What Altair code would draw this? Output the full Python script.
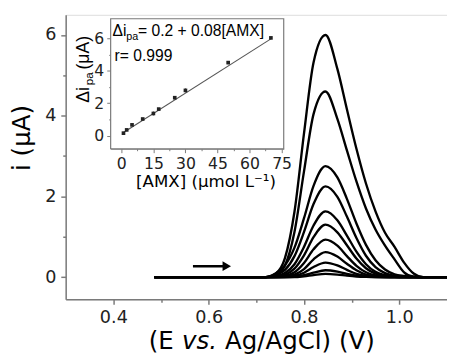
import altair as alt
import pandas as pd

# ---------------- data ----------------
E_grid = [0.486, 0.72, 0.74, 0.76, 0.78, 0.80, 0.82, 0.845, 0.87, 0.89,
          0.91, 0.93, 0.95, 0.97, 0.99, 1.01, 1.03, 1.05, 1.10]
curve_1 = [0, 0, 0.08, 0.47, 1.62, 3.56, 5.32, 6.00, 5.16, 4.16, 3.18, 2.32, 1.63, 1.10, 0.75, 0.36, 0.09, 0, 0]
curve_2 = [0, 0, 0.04, 0.29, 1.12, 2.62, 4.04, 4.60, 3.92, 3.14, 2.37, 1.70, 1.18, 0.78, 0.44, 0.12, 0.01, 0, 0]
curve_3 = [0, 0, 0.09, 0.29, 0.73, 1.46, 2.26, 2.75, 2.47, 1.94, 1.33, 0.80, 0.42, 0.19, 0.07, 0.03, 0.01, 0, 0]
curve_4 = [0, 0, 0.05, 0.18, 0.52, 1.12, 1.81, 2.25, 1.99, 1.50, 0.97, 0.53, 0.25, 0.10, 0.03, 0.01, 0, 0, 0]
curve_5 = [0, 0, 0.02, 0.10, 0.32, 0.75, 1.28, 1.63, 1.41, 1.03, 0.63, 0.32, 0.13, 0.05, 0.01, 0, 0, 0, 0]
curve_6 = [0, 0, 0.01, 0.06, 0.21, 0.54, 0.99, 1.30, 1.11, 0.79, 0.46, 0.22, 0.085, 0.03, 0.01, 0, 0, 0, 0]
curve_7 = [0, 0, 0, 0.03, 0.12, 0.35, 0.69, 0.93, 0.78, 0.52, 0.28, 0.12, 0.04, 0.01, 0, 0, 0, 0, 0]
curve_8 = [0, 0, 0, 0.01, 0.06, 0.20, 0.44, 0.62, 0.51, 0.33, 0.17, 0.065, 0.02, 0, 0, 0, 0, 0, 0]
curve_9 = [0, 0, 0, 0, 0.03, 0.11, 0.25, 0.36, 0.29, 0.18, 0.08, 0.03, 0.01, 0, 0, 0, 0, 0, 0]
curve_10 = [0, 0, 0, 0, 0.01, 0.05, 0.11, 0.17, 0.135, 0.08, 0.036, 0.012, 0, 0, 0, 0, 0, 0, 0]
curve_11 = [0, 0, 0, 0, 0, 0.02, 0.05, 0.08, 0.063, 0.037, 0.016, 0.005, 0, 0, 0, 0, 0, 0, 0]
curves = [curve_1, curve_2, curve_3, curve_4, curve_5, curve_6,
          curve_7, curve_8, curve_9, curve_10, curve_11]

arrow_E = [0.567, 0.638]
arrow_i = [0.27, 0.27]

conc = [1, 2.5, 5, 10, 15, 17.5, 25, 30, 50, 70]
dip = [0.16, 0.36, 0.67, 1.03, 1.37, 1.64, 2.34, 2.79, 4.50, 6.02]
dip_err = [0.04, 0.04, 0.05, 0.05, 0.12, 0.05, 0.10, 0.12, 0.10, 0.05]
fit_conc = [1, 70]
fit_dip = [0.20, 5.96]

main_x_ticks = [0.4, 0.5, 0.6, 0.7, 0.8, 0.9, 1.0]
main_y_ticks = [0, 1, 2, 3, 4, 5, 6]
inset_x_ticks = [0, 7.5, 15, 22.5, 30, 37.5, 45, 52.5, 60, 67.5, 75]
inset_y_ticks = [0, 1, 2, 3, 4, 5, 6]
main_x_domain = [0.3, 1.1]
main_y_domain = [-0.55, 6.5]
inset_x_domain = [-5, 76]
inset_y_domain = [-0.8, 7.2]

# ---------------- styling / layout ----------------
W, H = 390, 291
FONT = "DejaVu Sans"
FONT2 = "Liberation Sans"
GRAY = "#7a7a7a"
INSET_X_RANGE = [46, 223]
INSET_Y_RANGE = [137, 4]

rows = []
for k, c in enumerate(curves):
    for e, v in zip(E_grid, c):
        rows.append({"curve": k, "E": e, "i": v})
curve_df = pd.DataFrame(rows)

x_main = alt.X("E:Q", scale=alt.Scale(domain=main_x_domain, nice=False, zero=False),
               axis=alt.Axis(title=None, values=main_x_ticks, grid=False,
                             labelExpr="round(datum.value*10) % 2 == 0 ? format(datum.value, '.1f') : ''",
                             tickSize={"condition": {"test": "round(datum.value*10) % 2 == 0", "value": 5}, "value": 3},
                             tickColor=GRAY, tickWidth=1.5, domainColor=GRAY, domainWidth=1.5,
                             labelFont=FONT, labelFontSize=18, labelColor="#222",
                             labelPadding=5, labelOverlap=False, labelFlush=False))
y_main = alt.Y("i:Q", scale=alt.Scale(domain=main_y_domain, nice=False, zero=False),
               axis=alt.Axis(title=None, values=main_y_ticks, grid=False,
                             labelExpr="datum.value % 2 == 0 ? datum.label : ''",
                             tickSize={"condition": {"test": "datum.value % 2 == 0", "value": 5}, "value": 3},
                             tickColor=GRAY, tickWidth=1.5, domainColor=GRAY, domainWidth=1.5,
                             labelFont=FONT, labelFontSize=18, labelColor="#222",
                             labelPadding=5, labelOverlap=False, labelFlush=False))

curves_chart = alt.Chart(curve_df).mark_line(
    interpolate="monotone", color="black", strokeWidth=2.4
).encode(x=x_main, y=y_main, detail="curve:N")

arrow_df = pd.DataFrame({"E": arrow_E, "i": arrow_i})
arrow_line = alt.Chart(arrow_df).mark_line(color="black", strokeWidth=2.5).encode(x=x_main, y=y_main)
arrow_head = alt.Chart(arrow_df.tail(1)).mark_point(
    shape="triangle-right", filled=True, color="black", size=100, opacity=1
).encode(x=x_main, y=y_main)


def label(text, x, y, size, angle=0, style="normal", align="left",
          baseline="alphabetic", font=FONT):
    return alt.Chart(pd.DataFrame({"t": [text]})).mark_text(
        font=font, fontSize=size, fontStyle=style, align=align, baseline=baseline,
        angle=angle, color="black"
    ).encode(text="t:N", x=alt.value(x), y=alt.value(y))


xt1 = label("(E", 85, 342, 25)
xt2 = label("vs.", 119, 342, 25, style="italic")
xt3 = label("Ag/AgCl) (V)", 163, 342, 25)
yt = label("i (μA)", -44, 126, 25, angle=270, align="center", baseline="middle")

main = alt.layer(curves_chart, arrow_line, arrow_head, xt1, xt2, xt3, yt)

# ---------------- inset ----------------
x_in_axis = alt.Axis(orient="bottom", offset=-154, values=inset_x_ticks, grid=False,
                     title="[AMX] (μmol L⁻¹)", titleFont=FONT, titleFontSize=17,
                     titleFontWeight="normal", titleColor="black", titlePadding=3,
                     titleX=143, titleAlign="center",
                     labelExpr="datum.value % 15 == 0 ? datum.label : ''",
                     tickSize={"condition": {"test": "datum.value % 15 == 0", "value": 4}, "value": 2},
                     tickColor=GRAY, domainColor=GRAY, domainWidth=1.2,
                     labelFont=FONT, labelFontSize=16, labelColor="#222", labelPadding=3,
                     labelOverlap=False, labelFlush=False)
y_in_axis = alt.Axis(orient="left", offset=-46, values=inset_y_ticks, grid=False, title=None,
                     labelExpr="datum.value % 2 == 0 ? datum.label : ''",
                     tickSize={"condition": {"test": "datum.value % 2 == 0", "value": 4}, "value": 2},
                     tickColor=GRAY, domainColor=GRAY, domainWidth=1.2,
                     labelFont=FONT, labelFontSize=16, labelColor="#222", labelPadding=3,
                     labelOverlap=False, labelFlush=False)
xs_in = alt.Scale(domain=inset_x_domain, range=INSET_X_RANGE, nice=False, zero=False)
ys_in = alt.Scale(domain=inset_y_domain, range=INSET_Y_RANGE, nice=False, zero=False)

frame_df = pd.DataFrame({"conc": [inset_x_domain[0]], "conc2": [inset_x_domain[1]],
                         "dip": [inset_y_domain[0]], "dip2": [inset_y_domain[1]]})
frame = alt.Chart(frame_df).mark_rect(fill="white", stroke=GRAY, strokeWidth=1.2).encode(
    x=alt.X("conc:Q", scale=xs_in, axis=x_in_axis), x2="conc2:Q",
    y=alt.Y("dip:Q", scale=ys_in, axis=y_in_axis), y2="dip2:Q")

fit = alt.Chart(pd.DataFrame({"conc": fit_conc, "dip": fit_dip})).mark_line(
    color="#555", strokeWidth=1.1).encode(
    x=alt.X("conc:Q", scale=xs_in, axis=x_in_axis),
    y=alt.Y("dip:Q", scale=ys_in, axis=y_in_axis))

pts_df = pd.DataFrame({"conc": conc, "dip": dip, "err": dip_err})
errs = alt.Chart(pts_df).transform_calculate(
    lo="datum.dip - datum.err", hi="datum.dip + datum.err"
).mark_rule(color="#333", strokeWidth=1).encode(
    x=alt.X("conc:Q", scale=xs_in, axis=x_in_axis),
    y=alt.Y("lo:Q", scale=ys_in, axis=y_in_axis), y2="hi:Q")
pts = alt.Chart(pts_df).mark_square(color="#222", size=14, opacity=1).encode(
    x=alt.X("conc:Q", scale=xs_in, axis=x_in_axis),
    y=alt.Y("dip:Q", scale=ys_in, axis=y_in_axis))

eq1 = label("Δi", 48, 22, 16, font=FONT2)
eq2 = label("pa", 62, 26, 11, font=FONT2)
eq3 = label("= 0.2 + 0.08[AMX]", 74, 22, 16, font=FONT2)
rr = label("r= 0.999", 50, 47, 16, font=FONT2)
iy1 = label("Δi", 24, 90, 18, angle=270, font=FONT2)
iy2 = label("pa", 28, 72, 12, angle=270, font=FONT2)
iy3 = label("(μA)", 24, 56, 18, angle=270, font=FONT2)

inset = alt.layer(frame, fit, errs, pts, eq1, eq2, eq3, rr, iy1, iy2, iy3)

chart = alt.layer(main, inset).resolve_scale(x="independent", y="independent").properties(
    width=W, height=H,
    padding={"left": 59, "top": 3, "right": 0, "bottom": 54},
    autosize=alt.AutoSizeParams(type="none"),
).configure_view(stroke=GRAY, strokeWidth=1.5).configure(background="white")

chart.save("out.html", embed_options={"renderer": "svg", "actions": False})
